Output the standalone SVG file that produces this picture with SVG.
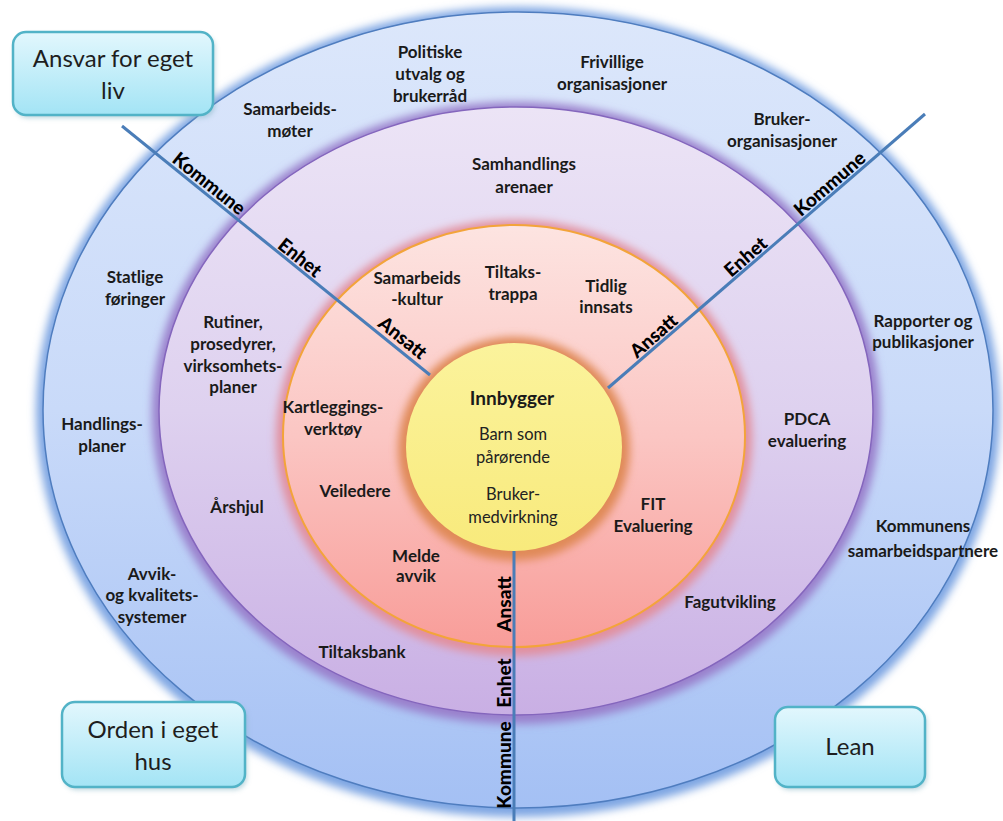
<svg xmlns="http://www.w3.org/2000/svg" width="1003" height="821" viewBox="0 0 1003 821">
<defs>
<linearGradient id="gBlue" x1="0" y1="0" x2="0" y2="1"><stop offset="0" stop-color="#dce7fb"/><stop offset="0.5" stop-color="#c9daf9"/><stop offset="1" stop-color="#a4c0f4"/></linearGradient>
<linearGradient id="gPurple" x1="0" y1="0" x2="0" y2="1"><stop offset="0" stop-color="#ece4f6"/><stop offset="0.5" stop-color="#ded1ef"/><stop offset="1" stop-color="#c9afe4"/></linearGradient>
<linearGradient id="gPink" x1="0" y1="0" x2="0" y2="1"><stop offset="0" stop-color="#fde4e1"/><stop offset="0.5" stop-color="#fbc6c3"/><stop offset="1" stop-color="#f89d99"/></linearGradient>
<linearGradient id="gYellow" x1="0" y1="0" x2="0" y2="1"><stop offset="0" stop-color="#fbf39c"/><stop offset="1" stop-color="#f8ea7c"/></linearGradient>
<linearGradient id="gBox" x1="0" y1="0" x2="0" y2="1"><stop offset="0" stop-color="#e2f7fd"/><stop offset="1" stop-color="#a3e4f5"/></linearGradient>
<filter id="blur" x="-10%" y="-10%" width="120%" height="120%"><feGaussianBlur stdDeviation="4"/></filter>
<filter id="shadow" x="-10%" y="-10%" width="130%" height="140%"><feGaussianBlur stdDeviation="2.5"/></filter>
<style>
.lbl{font-family:Lato,"Liberation Sans",sans-serif;font-weight:bold;font-size:17px;fill:#1a1a1a;text-anchor:middle}
.inn{font-family:Lato,"Liberation Sans",sans-serif;font-size:16.5px;fill:#222;text-anchor:middle}
.rot{font-family:Lato,"Liberation Sans",sans-serif;font-weight:900;font-size:19px;fill:#000;text-anchor:middle}
.box{font-family:Lato,"Liberation Sans",sans-serif;font-size:24px;fill:#1e1e1e;text-anchor:middle}
.boxr{fill:url(#gBox);stroke:#52b3c7;stroke-width:2.5}
.conn{stroke:#4a7db8;stroke-width:3;fill:none}
</style>
</defs>
<rect width="1003" height="821" fill="#ffffff"/>

<g id="ring-kommune">
<ellipse cx="518" cy="412" rx="482" ry="405" fill="#7ea6e3" filter="url(#blur)"/>
<ellipse cx="518" cy="410" rx="475" ry="398" fill="url(#gBlue)" stroke="#4f7dbf" stroke-width="1.5"/>
</g>
<g id="ring-enhet">
<ellipse cx="516" cy="413" rx="364" ry="311" fill="#9a80cc" filter="url(#blur)"/>
<ellipse cx="516" cy="411" rx="357" ry="304" fill="url(#gPurple)" stroke="#8466bd" stroke-width="1.5"/>
</g>
<g id="ring-ansatt">
<ellipse cx="514" cy="438" rx="238" ry="218" fill="#e2909e" filter="url(#blur)"/>
<ellipse cx="514" cy="436" rx="231" ry="211" fill="url(#gPink)" stroke="#f3a43a" stroke-width="2"/>
</g>
<g id="innbygger">
<ellipse cx="514" cy="449" rx="116" ry="112" fill="#e08a58" filter="url(#blur)"/>
<ellipse cx="514" cy="447" rx="108" ry="104" fill="url(#gYellow)"/>
<text class="lbl" x="512" y="405" style="font-size:19px">Innbygger</text>
<text class="inn" x="513" y="440">Barn som</text>
<text class="inn" x="513" y="463">pårørende</text>
<text class="inn" x="513" y="500">Bruker-</text>
<text class="inn" x="513" y="523">medvirkning</text>
</g>

<g id="connectors">
<line class="conn" x1="122" y1="126" x2="430" y2="375"/>
<line class="conn" x1="608" y1="388" x2="925" y2="114"/>
<line class="conn" x1="514" y1="551" x2="514" y2="821"/>
</g>

<g id="line-labels">
<text class="rot" transform="translate(203,191) rotate(38.8)" y="-3">Kommune</text>
<text class="rot" transform="translate(294,265) rotate(38.8)" y="-3">Enhet</text>
<text class="rot" transform="translate(396,346) rotate(38.8)" y="-4">Ansatt</text>
<text class="rot" transform="translate(836,191) rotate(-40.8)" y="-3">Kommune</text>
<text class="rot" transform="translate(752,264) rotate(-40.8)" y="-3">Enhet</text>
<text class="rot" transform="translate(660,343) rotate(-40.8)" y="-3">Ansatt</text>
<text class="rot" transform="translate(512,604) rotate(-90)" y="-1">Ansatt</text>
<text class="rot" transform="translate(512,683) rotate(-90)" y="-1">Enhet</text>
<text class="rot" transform="translate(512,765) rotate(-90)" y="-1">Kommune</text>
</g>

<g id="outer-labels">
<text class="lbl" x="430" y="58">Politiske</text>
<text class="lbl" x="430" y="80">utvalg og</text>
<text class="lbl" x="430" y="102">brukerråd</text>
<text class="lbl" x="612" y="68">Frivillige</text>
<text class="lbl" x="612" y="90">organisasjoner</text>
<text class="lbl" x="290" y="115">Samarbeids-</text>
<text class="lbl" x="290" y="137">møter</text>
<text class="lbl" x="782" y="125">Bruker-</text>
<text class="lbl" x="782" y="147">organisasjoner</text>
<text class="lbl" x="135" y="283">Statlige</text>
<text class="lbl" x="135" y="305">føringer</text>
<text class="lbl" x="102" y="430">Handlings-</text>
<text class="lbl" x="102" y="452">planer</text>
<text class="lbl" x="152" y="580">Avvik-</text>
<text class="lbl" x="152" y="601">og kvalitets-</text>
<text class="lbl" x="152" y="623">systemer</text>
<text class="lbl" x="923" y="327">Rapporter og</text>
<text class="lbl" x="923" y="348">publikasjoner</text>
<text class="lbl" x="923" y="532">Kommunens</text>
<text class="lbl" x="923" y="557">samarbeidspartnere</text>
</g>

<g id="middle-labels">
<text class="lbl" x="524" y="170">Samhandlings</text>
<text class="lbl" x="524" y="193">arenaer</text>
<text class="lbl" x="233" y="328">Rutiner,</text>
<text class="lbl" x="233" y="350">prosedyrer,</text>
<text class="lbl" x="233" y="372">virksomhets-</text>
<text class="lbl" x="233" y="393">planer</text>
<text class="lbl" x="237" y="513">Årshjul</text>
<text class="lbl" x="362" y="658">Tiltaksbank</text>
<text class="lbl" x="807" y="425">PDCA</text>
<text class="lbl" x="807" y="447">evaluering</text>
<text class="lbl" x="730" y="608">Fagutvikling</text>
</g>

<g id="inner-labels">
<text class="lbl" x="417" y="284">Samarbeids</text>
<text class="lbl" x="417" y="305">-kultur</text>
<text class="lbl" x="513" y="278">Tiltaks-</text>
<text class="lbl" x="513" y="300">trappa</text>
<text class="lbl" x="606" y="292">Tidlig</text>
<text class="lbl" x="606" y="313">innsats</text>
<text class="lbl" x="333" y="413">Kartleggings-</text>
<text class="lbl" x="333" y="435">verktøy</text>
<text class="lbl" x="355" y="497">Veiledere</text>
<text class="lbl" x="416" y="562">Melde</text>
<text class="lbl" x="416" y="582">avvik</text>
<text class="lbl" x="653" y="510">FIT</text>
<text class="lbl" x="653" y="532">Evaluering</text>
</g>

<g id="box-ansvar">
<rect x="15" y="35" width="200" height="83" rx="13" fill="#7fb0c0" opacity="0.5" filter="url(#shadow)"/>
<rect class="boxr" x="13" y="32" width="200" height="83" rx="13"/>
<text class="box" x="113" y="67">Ansvar for eget</text>
<text class="box" x="113" y="99">liv</text>
</g>
<g id="box-orden">
<rect x="64" y="705" width="183" height="85" rx="13" fill="#7fb0c0" opacity="0.5" filter="url(#shadow)"/>
<rect class="boxr" x="62" y="702" width="183" height="85" rx="13"/>
<text class="box" x="153" y="738">Orden i eget</text>
<text class="box" x="153" y="770">hus</text>
</g>
<g id="box-lean">
<rect x="777" y="710" width="150" height="80" rx="13" fill="#7fb0c0" opacity="0.5" filter="url(#shadow)"/>
<rect class="boxr" x="775" y="707" width="150" height="80" rx="13"/>
<text class="box" x="850" y="755">Lean</text>
</g>
</svg>
